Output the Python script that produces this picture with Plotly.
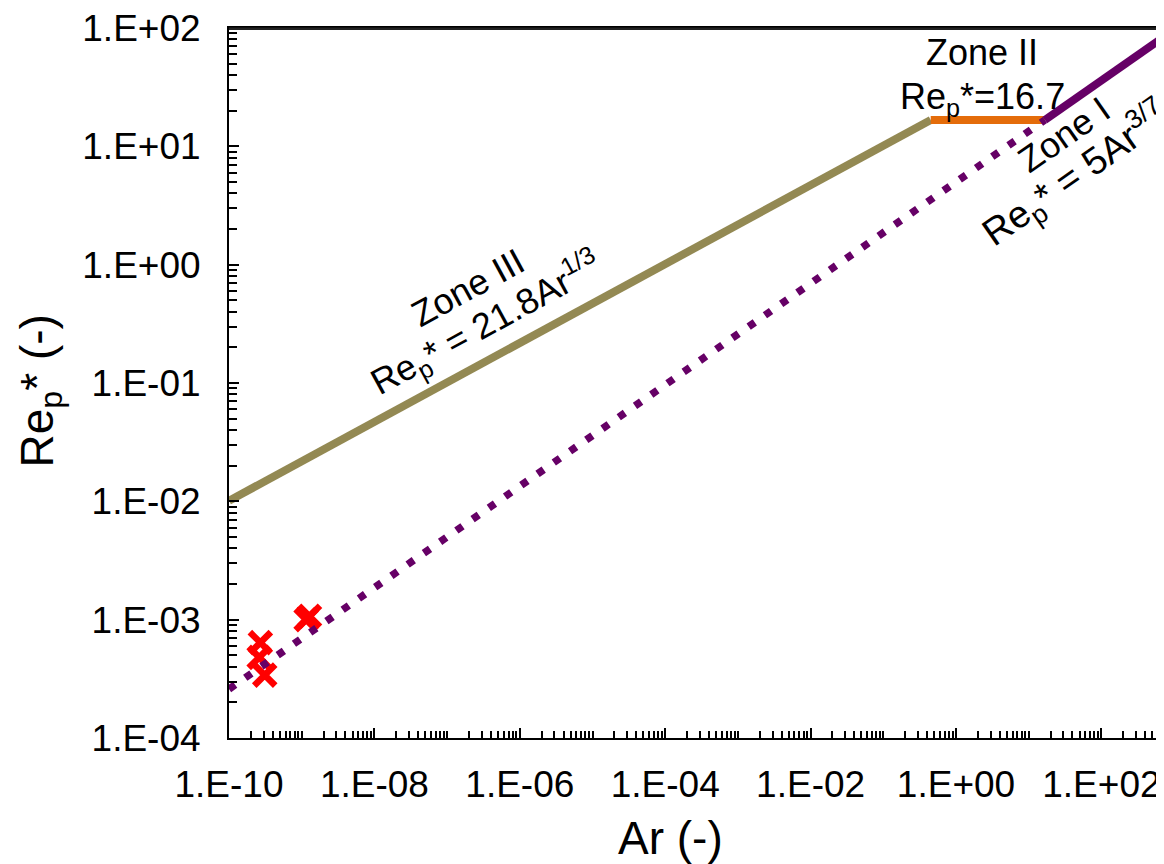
import plotly.graph_objects as go

# ---- data ----
ar_zone3 = [1e-10, 0.449]
re_zone3 = [0.0101, 16.7]
ar_zone2 = [0.449, 16.7]
re_zone2 = [16.7, 16.7]
ar_zone1 = [16.7, 1000.0]
re_zone1 = [16.7, 96.5]
ar_ext = [1e-10, 16.7]
re_ext = [2.59e-4, 16.7]
ar_exp = [2.7e-10, 2.6e-10, 3.1e-10, 1.15e-9, 1.28e-9]
re_exp = [6.4e-4, 4.8e-4, 3.4e-4, 1.0e-3, 1.07e-3]

x_tick_vals = [1e-10, 1e-8, 1e-6, 1e-4, 1e-2, 1e0, 1e2]
x_tick_text = ["1.E-10", "1.E-08", "1.E-06", "1.E-04", "1.E-02", "1.E+00", "1.E+02"]
y_tick_vals = [1e-4, 1e-3, 1e-2, 1e-1, 1e0, 1e1, 1e2]
y_tick_text = ["1.E-04", "1.E-03", "1.E-02", "1.E-01", "1.E+00", "1.E+01", "1.E+02"]

FONT = "Arial, Liberation Sans, sans-serif"
OFF = 8                      # page body margin
W, H = 1164 - OFF, 864 - OFF
L, T = 229 - OFF, 25 - OFF
B = H - (738 - OFF)
PW, PH = W - L, H - T - B


def px(x):
    # page pixel -> paper x
    return (x - OFF - L) / PW


def py(y):
    # page pixel -> paper y
    return (H - B - (y - OFF)) / PH


x_minor = [k * 10.0 ** n for n in range(-10, 3) for k in range(1, 10)
           if not (k == 1 and n % 2 == 0)]
y_minor = [k * 10.0 ** n for n in range(-4, 2) for k in range(2, 10)]

fig = go.Figure()
fig.add_trace(go.Scatter(x=ar_zone3, y=re_zone3, mode="lines",
                         line=dict(color="#938953", width=8)))
fig.add_trace(go.Scatter(x=ar_zone2, y=re_zone2, mode="lines",
                         line=dict(color="#E46C0A", width=8)))
fig.add_trace(go.Scatter(x=ar_zone1, y=re_zone1, mode="lines",
                         line=dict(color="#660066", width=8)))
fig.add_trace(go.Scatter(x=ar_exp, y=re_exp, mode="markers",
                         marker=dict(symbol="x-thin", size=21, color="#FF0000",
                                     line=dict(color="#FF0000", width=6.5))))
fig.add_trace(go.Scatter(x=ar_ext, y=re_ext, mode="lines",
                         line=dict(color="#660066", width=7.5, dash="7.5px,12.3px")))

ann_font = dict(family=FONT, size=36, color="black")
annotations = [
    dict(text="Zone III", x=px(468), y=py(286), textangle=-28.6),
    dict(text="Re<sub>p</sub>* = 21.8Ar<sup>1/3</sup>", x=px(486), y=py(322), textangle=-28.6),
    dict(text="Zone II", x=px(982), y=py(50), textangle=0),
    dict(text="Re<sub>p</sub>*=16.7", x=px(982), y=py(96), textangle=0),
    dict(text="Zone I", x=px(1064), y=py(132), textangle=-35),
    dict(text="Re<sub>p</sub>* = 5Ar<sup>3/7</sup>", x=px(1076), y=py(172), textangle=-35,
         font=dict(family=FONT, size=38, color="black")),
]
for a in annotations:
    a.setdefault("font", ann_font)
    a.update(xref="paper", yref="paper", showarrow=False,
             xanchor="center", yanchor="middle")
annotations.append(dict(text="Ar (-)", x=px(670), y=py(838), xref="paper", yref="paper",
                        showarrow=False, font=dict(family=FONT, size=46, color="black"),
                        xanchor="center", yanchor="middle"))
annotations.append(dict(text="Re<sub>p</sub>* (-)", x=px(40), y=py(390),
                        xref="paper", yref="paper", textangle=-90,
                        showarrow=False, font=dict(family=FONT, size=46, color="black"),
                        xanchor="center", yanchor="middle"))

fig.update_layout(
    width=W, height=H,
    margin=dict(l=L, r=0, t=T, b=B, pad=0),
    paper_bgcolor="white", plot_bgcolor="white",
    showlegend=False,
    annotations=annotations,
    shapes=[dict(type="line", xref="x domain", yref="y domain", x0=0, x1=1,
                 y0=0.999, y1=0.999, layer="above",
                 line=dict(color="#222222", width=2.5))],
)
fig.update_xaxes(
    type="log", range=[-10, -10 + PW / 72.7],
    tickvals=x_tick_vals, ticktext=x_tick_text,
    ticks="inside", ticklen=10, tickwidth=1.5, tickcolor="black",
    showline=True, linecolor="black", linewidth=2, mirror=True,
    showgrid=False, zeroline=False,
    tickfont=dict(family=FONT, size=37, color="black"),
    ticklabelstandoff=13, ticklabeloverflow="allow",
    minor=dict(tickvals=x_minor, ticks="inside", ticklen=7, tickwidth=1.5,
               tickcolor="black", showgrid=False),
)
fig.update_yaxes(
    type="log", range=[-4, 2],
    tickvals=y_tick_vals, ticktext=y_tick_text,
    ticks="inside", ticklen=10, tickwidth=1.5, tickcolor="black",
    showline=True, linecolor="black", linewidth=2, mirror=False,
    showgrid=False, zeroline=False,
    tickfont=dict(family=FONT, size=37, color="black"),
    ticklabelstandoff=19, ticklabeloverflow="allow",
    minor=dict(tickvals=y_minor, ticks="inside", ticklen=8, tickwidth=1.5,
               tickcolor="black", showgrid=False),
)

fig.write_html("out.html")
